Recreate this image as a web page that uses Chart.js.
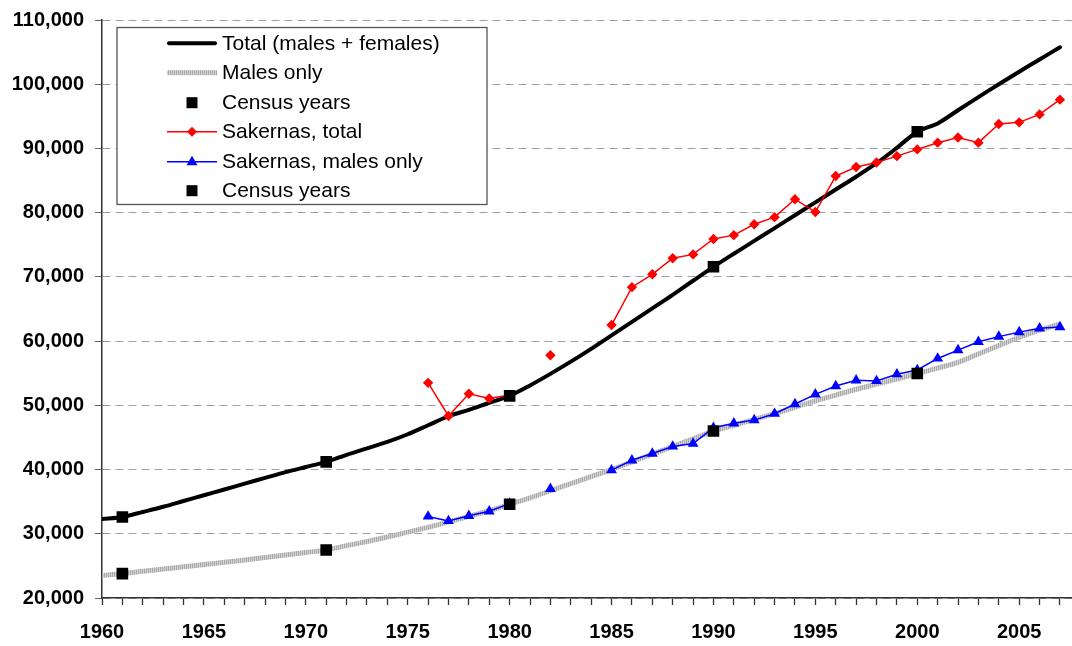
<!DOCTYPE html>
<html>
<head>
<meta charset="utf-8">
<script src="https://cdn.jsdelivr.net/npm/chart.js@4.4.1/dist/chart.umd.min.js"></script>
<style>
  html, body { margin: 0; padding: 0; background: #fff; overflow: hidden; }
  #wrap { width: 1072px; height: 646px; position: relative; overflow: hidden; }
</style>
</head>
<body>
<div id="wrap"><canvas id="c" width="1082" height="646"></canvas></div>
<script>
// ---------- DATA ----------
const years = [1960,1961,1962,1963,1964,1965,1966,1967,1968,1969,
               1970,1971,1972,1973,1974,1975,1976,1977,1978,1979,
               1980,1981,1982,1983,1984,1985,1986,1987,1988,1989,
               1990,1991,1992,1993,1994,1995,1996,1997,1998,1999,
               2000,2001,2002,2003,2004,2005,2006,2007];
const totalLF = [32300,32620,33400,34200,35100,36000,36900,37800,38700,39600,
                 40400,41200,42300,43300,44300,45500,46900,48300,49300,50400,
                 51470,53100,54900,56800,58800,60900,63000,65100,67200,69400,
                 71570,73600,75600,77600,79600,81600,83600,85600,87700,90100,
                 92600,93900,95950,98000,100000,101950,103850,105750];
const malesLF = [23500,23800,24150,24500,24850,25200,25550,25900,26300,26700,
                 27100,27480,28150,28800,29500,30250,31000,31850,32700,33600,
                 34600,35600,36700,37800,38900,40000,41200,42400,43600,44800,
                 46000,46900,47800,48700,49700,50700,51600,52500,53300,54100,
                 54960,55800,56700,58000,59300,60600,61700,62700];
const censusYears = [1961,1971,1980,1990,2000];
const censusTotal = [32620,41190,51470,71570,92600];
const censusMales = [23800,27480,34600,46000,54960];
const sakYears = [1976,1977,1978,1979,1980,1981,1982,1983,1984,1985,1986,1987,1988,1989,
                  1990,1991,1992,1993,1994,1995,1996,1997,1998,1999,
                  2000,2001,2002,2003,2004,2005,2006,2007];
const sakTotal = [53500,48350,51800,51060,51600,null,57800,null,null,62500,68400,70400,72900,73500,
                  75900,76500,78200,79300,82100,80100,85700,87100,87800,88800,
                  89850,90900,91700,90900,93800,94060,95300,97600];
const sakMales = [32700,32000,32800,33500,34700,null,37000,null,null,39900,41450,42500,43600,44050,
                  46500,47200,47700,48700,50200,51700,53000,53900,53800,54850,
                  55500,57300,58600,59900,60700,61400,62000,62200];
const yTicks = [20000,30000,40000,50000,60000,70000,80000,90000,100000,110000];
const legendLabels = ["Total (males + females)","Males only","Census years",
                      "Sakernas, total","Sakernas, males only","Census years"];

// ---------- helpers ----------
const pts = (xs, ys) => xs.map((x, i) => ({x: x, y: ys[i]}));

function hatchPattern() {
  const c = document.createElement('canvas');
  c.width = 2; c.height = 2;
  const g = c.getContext('2d');
  g.fillStyle = '#D4D4D4'; g.fillRect(0, 0, 2, 2);
  g.fillStyle = '#A8A8A8'; g.fillRect(0, 0, 1, 2);
  return g.createPattern(c, 'repeat');
}
const ctx = document.getElementById('c').getContext('2d');
const grayPat = hatchPattern();

const FONT = "'Liberation Sans', Arial, sans-serif";

const legendPlugin = {
  id: 'boxLegend',
  afterDraw(chart) {
    const g = chart.ctx;
    g.save();
    const bx = 117, by = 27.5, bw = 370, bh = 177;
    g.fillStyle = '#fff';
    g.fillRect(bx, by, bw, bh);
    g.lineWidth = 1.3;
    g.strokeStyle = '#555';
    g.strokeRect(bx, by, bw, bh);
    const rows = [43.3, 72.7, 102.7, 131.7, 161.7, 190.7];
    const lx1 = 167, lx2 = 217, mx = 192;
    g.font = "21px " + FONT;
    g.textBaseline = 'middle';
    g.textAlign = 'left';
    rows.forEach((ry, i) => {
      const y = ry;
      if (i === 0) {
        g.strokeStyle = '#000'; g.lineWidth = 4; g.lineCap = 'round';
        g.beginPath(); g.moveTo(lx1 + 2, y); g.lineTo(lx2 - 2, y); g.stroke();
      } else if (i === 1) {
        g.strokeStyle = grayPat; g.lineWidth = 5; g.lineCap = 'butt';
        g.beginPath(); g.moveTo(lx1, y); g.lineTo(lx2, y); g.stroke();
      } else if (i === 2 || i === 5) {
        g.fillStyle = '#000';
        g.fillRect(mx - 5.5, y - 5.5, 11, 11);
      } else if (i === 3) {
        g.strokeStyle = '#FF0000'; g.lineWidth = 1.5; g.lineCap = 'butt';
        g.beginPath(); g.moveTo(lx1, y); g.lineTo(lx2, y); g.stroke();
        g.fillStyle = '#FF0000';
        g.beginPath(); g.moveTo(mx, y - 5); g.lineTo(mx + 5, y); g.lineTo(mx, y + 5); g.lineTo(mx - 5, y); g.closePath(); g.fill();
      } else if (i === 4) {
        g.strokeStyle = '#0000FF'; g.lineWidth = 1.5; g.lineCap = 'butt';
        g.beginPath(); g.moveTo(lx1, y); g.lineTo(lx2, y); g.stroke();
        g.fillStyle = '#0000FF';
        g.beginPath(); g.moveTo(mx, y - 6); g.lineTo(mx + 5.5, y + 3.5); g.lineTo(mx - 5.5, y + 3.5); g.closePath(); g.fill();
      }
      g.fillStyle = '#000';
      g.fillText(legendLabels[i], 222, y + 1);
    });
    g.restore();
  }
};

new Chart(ctx, {
  type: 'line',
  data: {
    datasets: [
      { label: 'Census years', data: pts(censusYears, censusTotal), showLine: false,
        pointStyle: 'rect', pointRadius: 8.2, pointHoverRadius: 8.2,
        pointBackgroundColor: '#000', pointBorderWidth: 0 },
      { label: 'Census years (males)', data: pts(censusYears, censusMales), showLine: false,
        pointStyle: 'rect', pointRadius: 8.2, pointHoverRadius: 8.2,
        pointBackgroundColor: '#000', pointBorderWidth: 0 },
      { label: 'Sakernas, total', data: pts(sakYears, sakTotal), spanGaps: false,
        borderColor: '#FF0000', borderWidth: 1.5, pointStyle: 'rectRot', pointRadius: 5.2,
        pointBackgroundColor: '#FF0000', pointBorderWidth: 0, tension: 0 },
      { label: 'Sakernas, males only', data: pts(sakYears, sakMales), spanGaps: false,
        borderColor: '#0000FF', borderWidth: 1.5, pointStyle: 'triangle', pointRadius: 6.3,
        pointBackgroundColor: '#0000FF', pointBorderWidth: 0, tension: 0 },
      { label: 'Total (males + females)', data: pts(years, totalLF),
        borderColor: '#000', borderWidth: 4, pointRadius: 0, tension: 0.3,
        borderCapStyle: 'round', borderJoinStyle: 'round' },
      { label: 'Males only', data: pts(years, malesLF),
        borderColor: grayPat, borderWidth: 5, pointRadius: 0, tension: 0.3 }
    ]
  },
  options: {
    responsive: false,
    animation: false,
    events: [],
    layout: { padding: { top: 20, right: 0, left: 0, bottom: 0 } },
    plugins: { legend: { display: false }, tooltip: { enabled: false } },
    scales: {
      x: {
        type: 'linear', min: 1960, max: 2007.68,
        afterBuildTicks: (s) => { s.ticks = years.map(v => ({ value: v })); },
        afterFit: (s) => { s.height = 48; s.paddingRight = 0; s.paddingLeft = 0; },
        ticks: {
          autoSkip: false, maxRotation: 0, padding: 15, color: '#000',
          font: { family: FONT, size: 20, weight: 'bold' },
          callback: (v) => (v % 5 === 0 ? String(v) : '')
        },
        grid: { drawOnChartArea: false, drawTicks: true, tickLength: 7, tickColor: '#333', tickWidth: 1.3 },
        border: { display: true, color: '#333', width: 1.5 }
      },
      y: {
        min: 20000, max: 110000,
        afterBuildTicks: (s) => { s.ticks = yTicks.map(v => ({ value: v })); },
        afterFit: (s) => { s.width = 102; s.paddingTop = 0; s.paddingBottom = 0; },
        ticks: {
          padding: 11, color: '#000',
          font: { family: FONT, size: 20, weight: 'bold' },
          callback: (v) => v.toLocaleString('en-US')
        },
        grid: { color: '#A0A0A0', lineWidth: 1, drawTicks: true, tickLength: 7, tickColor: '#666', tickWidth: 1 },
        border: { display: true, color: '#333', width: 1.5, dash: [8, 5] }
      }
    }
  },
  plugins: [legendPlugin]
});
</script>
</body>
</html>
